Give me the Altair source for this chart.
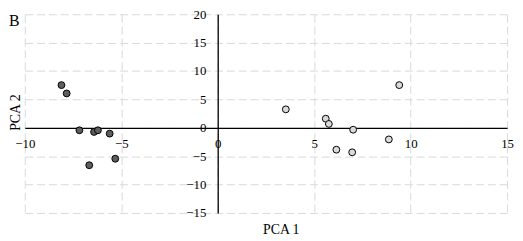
import altair as alt
import pandas as pd

# ---- data ----
group_a_x = [-8.10, -7.83, -7.17, -6.41, -6.21, -5.60, -6.66, -5.31]
group_a_y = [7.52, 6.05, -0.44, -0.73, -0.44, -1.03, -6.60, -5.45]
group_b_x = [3.53, 5.60, 5.76, 7.02, 9.41, 8.87, 6.15, 6.97]
group_b_y = [3.25, 1.60, 0.68, -0.34, 7.52, -2.05, -3.86, -4.32]
groups = ["A", "B"]
x_ticks = [-10, -5, 0, 5, 10, 15]
y_ticks = [-15, -10, -5, 0, 5, 10, 15, 20]
panel_label = "B"
x_title = "PCA 1"
y_title = "PCA 2"

df = pd.DataFrame({
    "x": group_a_x + group_b_x,
    "y": group_a_y + group_b_y,
    "g": [groups[0]] * len(group_a_x) + [groups[1]] * len(group_b_x),
})

W, H = 488, 201
PAD_TOP = 5
xdom = [x_ticks[0], x_ticks[-1]]
ydom = [y_ticks[0], y_ticks[-1]]
x_off = -H * (0 - ydom[0]) / (ydom[1] - ydom[0])          # x axis sits on y = 0
y_off = -W * (0 - xdom[0]) / (xdom[1] - xdom[0])          # y axis sits on x = 0
font = "Liberation Serif"

x_axis = alt.Axis(
    values=x_ticks, offset=x_off, ticks=False, domainColor="black", domainWidth=1.3,
    grid=True, gridColor="#d9d9d9", gridDash=[8, 4], gridWidth=1,
    labelFont=font, labelFontSize=13, labelColor="#000000", labelPadding=10,
    labelFlush=False, labelOverlap=False, labelBound=False,
    title=x_title, titleFont=font, titleFontSize=14, titleFontWeight="normal",
    titleColor="#000000", titleX=259, titleY=221 - (H + x_off) - PAD_TOP + 2,
    titleAlign="center", titleBaseline="middle",
)
y_axis = alt.Axis(
    values=y_ticks, offset=y_off, ticks=False, domainColor="black", domainWidth=1.3,
    grid=True, gridColor="#d9d9d9", gridDash=[8, 4], gridWidth=1,
    labelFont=font, labelFontSize=13, labelColor="#000000", labelPadding=12,
    labelFlush=False, labelOverlap=False, labelBound=False,
    title=y_title, titleFont=font, titleFontSize=14, titleFontWeight="normal",
    titleColor="#000000", titleX=-9 + y_off, titleY=99, titleAngle=270,
    titleAlign="center", titleBaseline="middle",
)

points = (
    alt.Chart(df)
    .mark_circle(size=48, stroke="black", strokeWidth=1, opacity=1)
    .encode(
        x=alt.X("x:Q", scale=alt.Scale(domain=xdom, nice=False, zero=False), axis=x_axis),
        y=alt.Y("y:Q", scale=alt.Scale(domain=ydom, nice=False, zero=False), axis=y_axis),
        fill=alt.Fill("g:N", scale=alt.Scale(domain=groups, range=["#5e5e5e", "#dadada"]), legend=None),
    )
)

label = (
    alt.Chart(pd.DataFrame({"t": [panel_label]}))
    .mark_text(font=font, fontSize=16, color="black", align="left", baseline="alphabetic")
    .encode(text="t:N", x=alt.value(-16), y=alt.value(12))
)

chart = (
    alt.layer(points, label)
    .properties(
        width=W, height=H,
        autosize=alt.AutoSizeParams(type="none"),
        padding={"left": 17, "top": PAD_TOP, "right": 8, "bottom": 22},
    )
    .configure_view(stroke=None)
)

chart.save("out.html", embed_options={"renderer": "svg", "actions": False})
